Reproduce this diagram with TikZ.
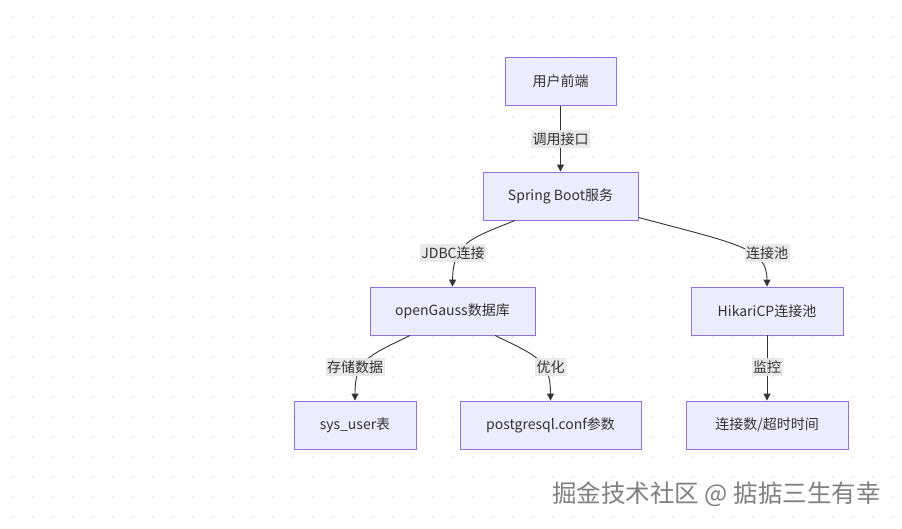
\documentclass[tikz,border=0pt]{standalone}
\usepackage{fontspec}
\setmainfont{Noto Sans CJK SC}
\usetikzlibrary{arrows.meta, positioning}
\definecolor{boxfill}{HTML}{ECECFF}
\definecolor{boxline}{HTML}{9370DB}
\definecolor{ink}{HTML}{333333}
\definecolor{lblfill}{HTML}{E8E8E8}
\definecolor{dotc}{HTML}{DDDDDD}

\begin{document}
\begin{tikzpicture}[x=1pt, y=-1pt,
        % boxes as drawn by the flowchart
        box/.style={draw=boxline, fill=boxfill, line width=0.9, minimum height=48, inner sep=0pt, text=ink, font=\fontsize{14}{16}\selectfont},
        lbl/.style={fill=lblfill, fill opacity=0.9, text opacity=1, inner xsep=1.5pt, inner ysep=2.5pt, text=ink, font=\fontsize{14}{16}\selectfont},
        flow/.style={draw=ink, line width=0.9, -{Triangle[length=7,width=7]}},
        wmark/.style={text=black!50, font=\fontsize{24.5}{28}\selectfont}]

        \useasboundingbox (0,0) rectangle (902,528);
        \fill[white] (0,0) rectangle (902,528);

        % dot grid
        \foreach \gx in {0,...,44}
            \foreach \gy in {0,...,25}
                \fill[dotc] (13+20*\gx, 17+20*\gy) circle (0.8);

        \node[box, minimum width=111] (n_front) at (560.5,81.5) {用户前端};
        \node[box, minimum width=155] (n_sb) at (560.5,196) {Spring Boot服务};
        \node[box, minimum width=165] (n_og) at (452.5,311) {openGauss数据库};
        \node[box, minimum width=152] (n_pool) at (767,311) {HikariCP连接池};
        \node[box, minimum width=122] (n_user) at (355,425) {sys\_user表};
        \node[box, minimum width=181] (n_conf) at (550.5,425) {postgresql.conf参数};
        \node[box, minimum width=162] (n_time) at (767,425) {连接数/超时时间};

        \draw[flow] (n_front) -- (n_sb);
        \draw[flow] ([xshift=-45.5pt]n_sb.south) .. controls (472,238) and (453,242) .. (n_og.north);
        \draw[flow] ([yshift=3pt]n_sb.south east) .. controls (738,244) and (767,248) .. (n_pool.north);
        \draw[flow] ([xshift=-42.5pt]n_og.south) .. controls (368,356) and (355,360) .. (n_user.north);
        \draw[flow] ([xshift=42.5pt]n_og.south) .. controls (537,356) and (550.5,360) .. (n_conf.north);
        \draw[flow] (n_pool) -- (n_time);

        \node[lbl] (l_call) at (560.5,139) {调用接口};
        \node[lbl] (l_jdbc) at (453,253) {JDBC连接};
        \node[lbl] (l_pool) at (767,253) {连接池};
        \node[lbl] (l_store) at (355,367) {存储数据};
        \node[lbl] (l_tune) at (550.5,367) {优化};
        \node[lbl] (l_watch) at (767,367) {监控};

        \node[wmark] (n_mark) at (716.5,494) {掘金技术社区 @ 掂掂三生有幸};

    \end{tikzpicture}
\end{document}
